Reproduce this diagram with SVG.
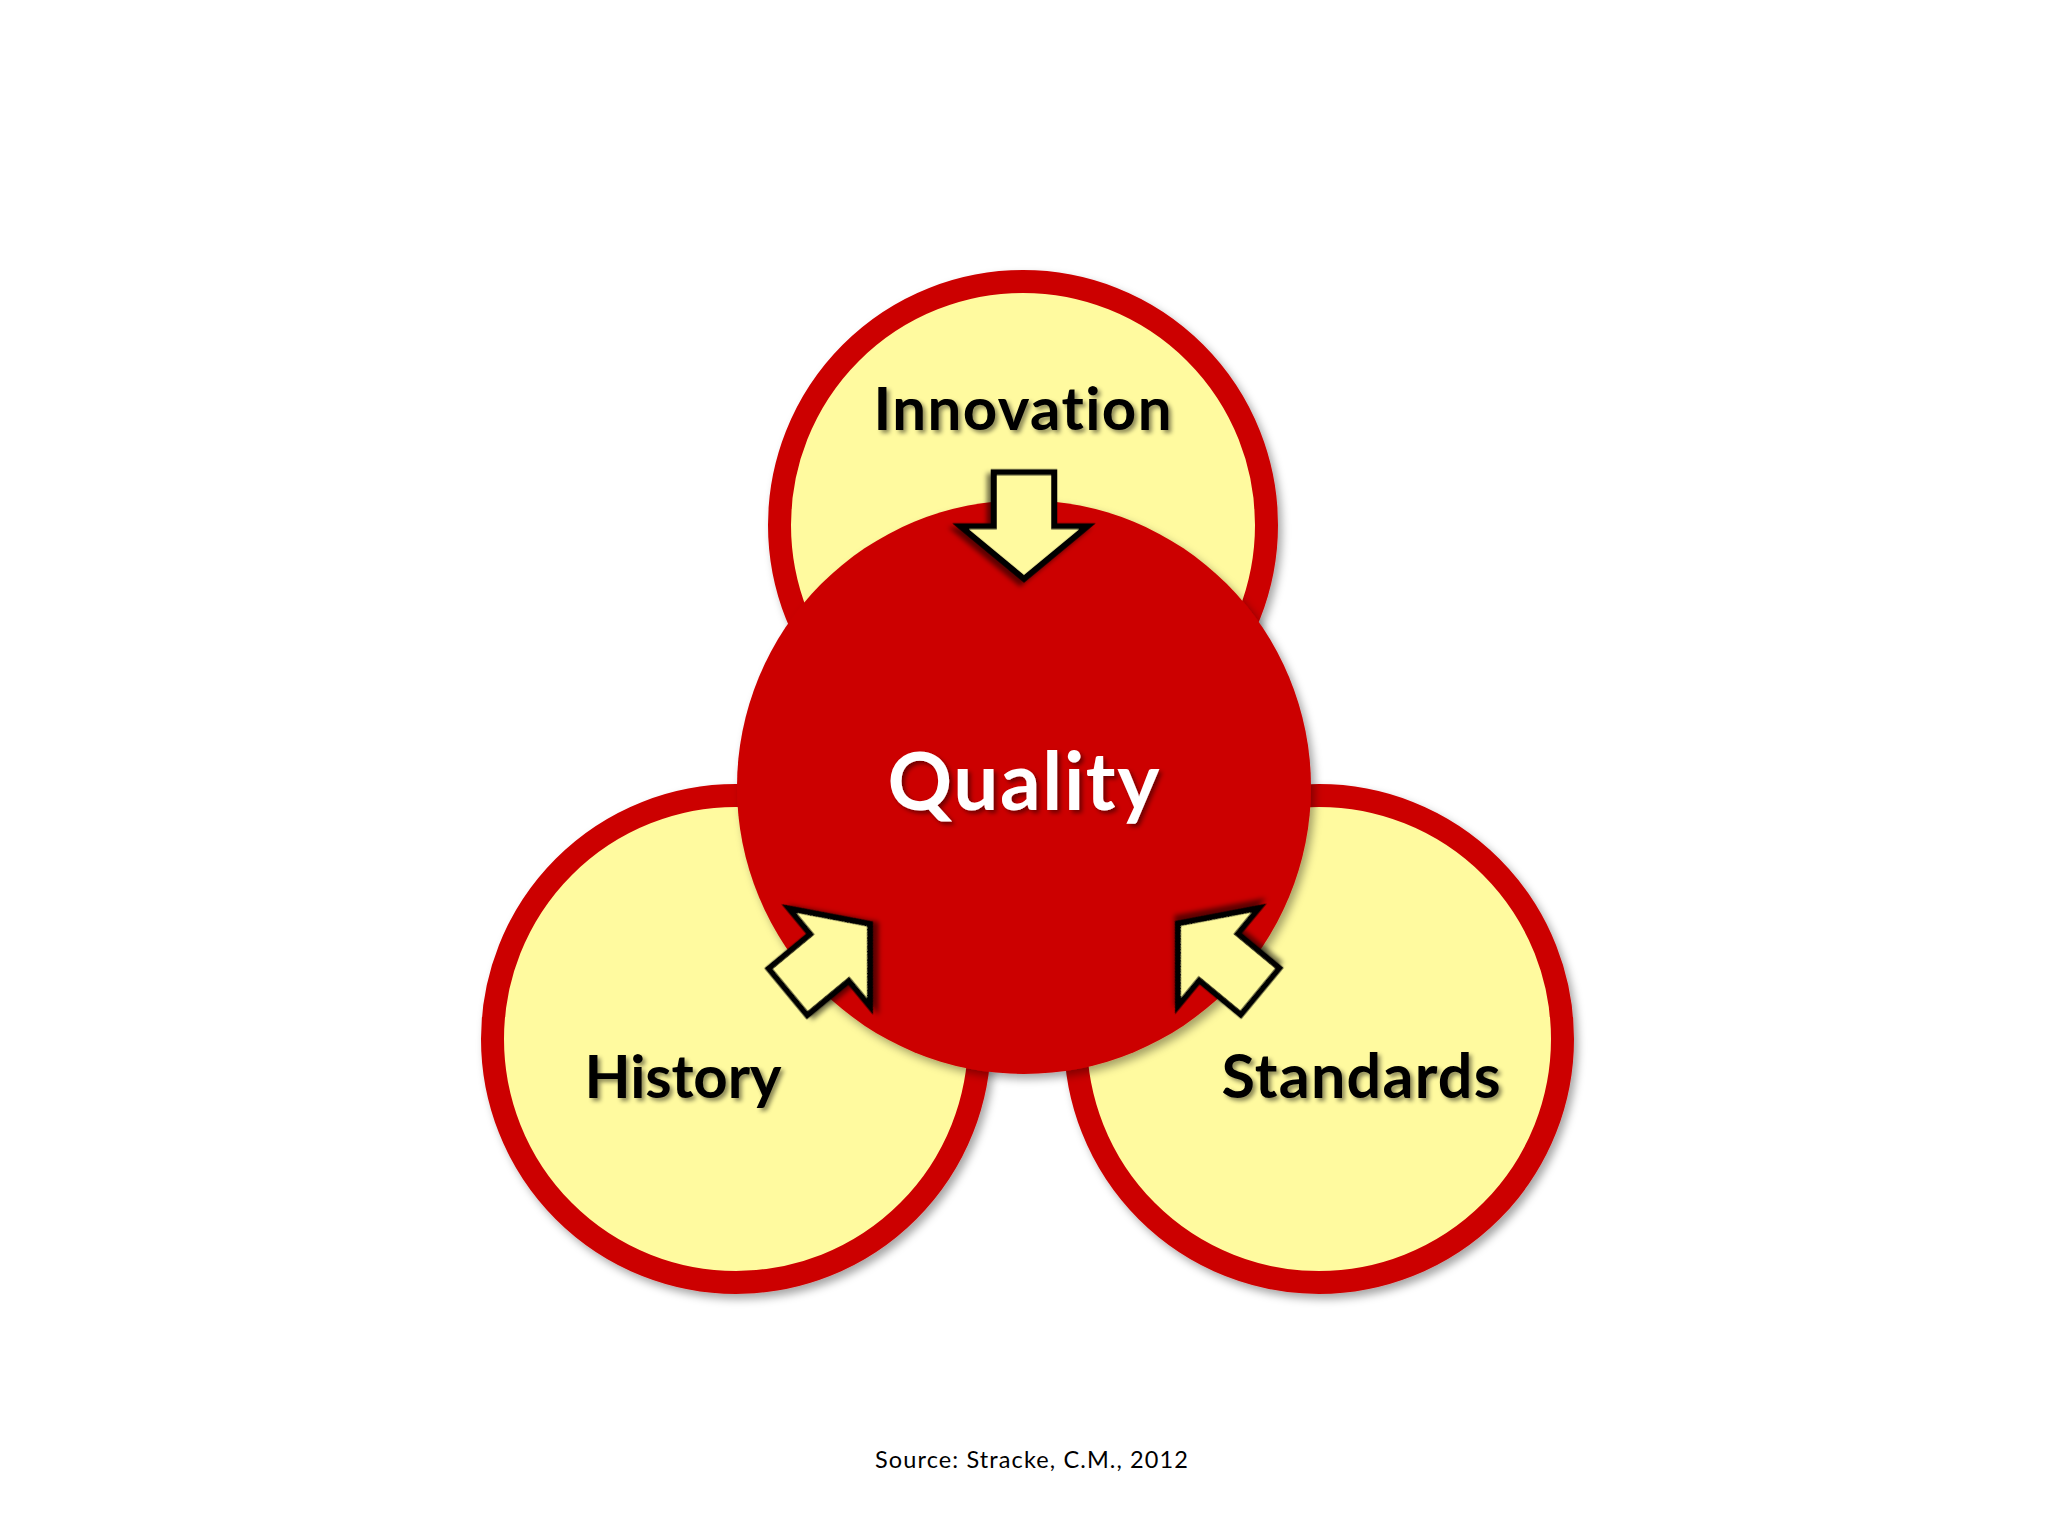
<svg xmlns="http://www.w3.org/2000/svg" width="2048" height="1536" viewBox="0 0 2048 1536">
  <style>
    .ring { fill: #FFFA9F; stroke: #CC0000; stroke-width: 23; }
    .core { fill: #CC0000; }
    .arrow { fill: #FFFA9F; stroke: #000000; stroke-width: 6; stroke-linejoin: miter; stroke-miterlimit: 10; }
    text { font-variant-ligatures: none; font-feature-settings: "liga" 0, "clig" 0; }
    .lbl { font-family: Lato, "Open Sans", "DejaVu Sans", sans-serif; font-weight: 700; fill: #000000; text-anchor: middle; }
    .qlbl { font-family: Lato, "Open Sans", "DejaVu Sans", sans-serif; font-weight: 700; fill: #FFFFFF; text-anchor: middle; }
    .src { font-family: Lato, "Open Sans", "DejaVu Sans", sans-serif; font-weight: 400; fill: #000000; text-anchor: middle; }
  </style>
  <defs>
    <filter id="circShadow" x="-20%" y="-20%" width="140%" height="140%">
      <feDropShadow dx="4" dy="5" stdDeviation="4" flood-color="#000000" flood-opacity="0.35"/>
    </filter>
    <filter id="arrowShadow" x="-30%" y="-30%" width="160%" height="160%">
      <feDropShadow dx="4" dy="4" stdDeviation="2.5" flood-color="#000000" flood-opacity="0.55"/>
    </filter>
    <filter id="textShadow" x="-10%" y="-20%" width="120%" height="150%">
      <feDropShadow dx="3" dy="3" stdDeviation="2" flood-color="#000000" flood-opacity="0.45"/>
    </filter>
    <polygon id="arrowShape" points="0,0 -52.5,-63.5 -52.5,-30.3 -106.5,-30.3 -106.5,30.3 -52.5,30.3 -52.5,63.5"/>
  </defs>
  <rect x="0" y="0" width="2048" height="1536" fill="#FFFFFF"/>

  <g id="node-innovation">
    <circle class="ring" cx="1023" cy="525" r="243.5" filter="url(#circShadow)"/>
  </g>
  <g id="node-history">
    <circle class="ring" cx="736" cy="1039" r="243.5" filter="url(#circShadow)"/>
  </g>
  <g id="node-standards">
    <circle class="ring" cx="1319" cy="1039" r="243.5" filter="url(#circShadow)"/>
  </g>
  <g id="node-quality">
    <circle class="core" cx="1024" cy="787" r="287" filter="url(#circShadow)"/>
  </g>

  <g id="connectors">
    <use href="#arrowShape" class="arrow" filter="url(#arrowShadow)" transform="translate(1024 578.8) rotate(90)"/>
    <use href="#arrowShape" class="arrow" filter="url(#arrowShadow)" transform="translate(870 924) rotate(-39.6)"/>
    <use href="#arrowShape" class="arrow" filter="url(#arrowShadow)" transform="translate(1178 923.5) rotate(-140.4)"/>
  </g>

  <g id="labels">
    <text class="lbl" x="1022.5" y="430" font-size="60" textLength="298" filter="url(#textShadow)">Innovation</text>
    <text class="qlbl" x="1023.5" y="810" font-size="80" textLength="272" filter="url(#textShadow)">Quality</text>
    <text class="lbl" x="683" y="1097.5" font-size="60" textLength="197" filter="url(#textShadow)">History</text>
    <text class="lbl" x="1361" y="1097.5" font-size="61" textLength="279" filter="url(#textShadow)">Standards</text>
    <text class="src" x="1031.5" y="1468.3" font-size="23.5" textLength="313">Source: Stracke, C.M., 2012</text>
  </g>
</svg>
